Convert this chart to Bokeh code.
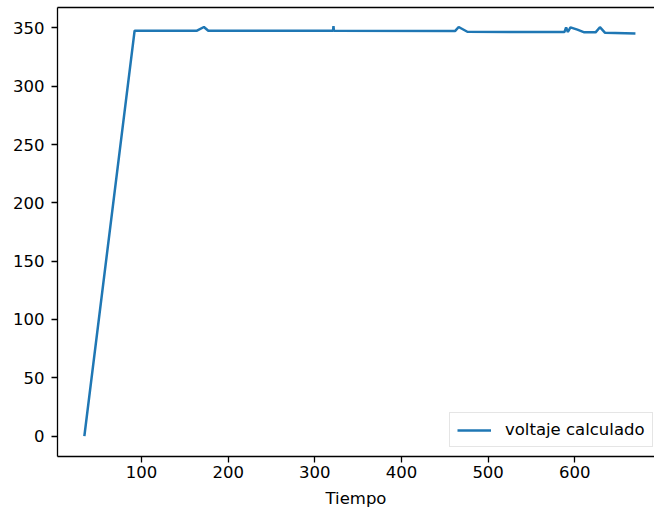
from bokeh.plotting import figure
from bokeh.models import LinearAxis, FixedTicker, Range1d, Legend, LegendItem
from bokeh.embed import file_html
from bokeh.resources import INLINE

# Data
tiempo = [34, 92, 164, 172, 177, 321, 321.5, 322, 462, 466, 476, 588, 590, 592,
          595, 603, 611, 624, 629, 635, 670]
voltaje = [0, 347.6, 347.6, 350.8, 347.6, 347.6, 351.5, 347.6, 347.4, 350.8, 346.7,
           346.4, 350.5, 346.5, 350.5, 348.5, 346.2, 346.2, 350.6, 345.8, 345.3]
x_ticks = [100, 200, 300, 400, 500, 600]
y_ticks = [0, 50, 100, 150, 200, 250, 300, 350]
serie_label = "voltaje calculado"
x_label = "Tiempo"

FONT = "DejaVu Sans"
FS = "16.5px"

p = figure(frame_width=597, frame_height=449,
           min_border_left=57, min_border_right=0, min_border_top=7, min_border_bottom=50,
           x_range=Range1d(3, 692), y_range=Range1d(-17.5, 367.5),
           output_backend="svg", toolbar_location=None, x_axis_location=None,
           y_axis_location=None)
p.outline_line_color = None
p.xgrid.visible = False
p.ygrid.visible = False
p.background_fill_color = "white"
p.border_fill_color = "white"

def style_axis(ax):
    ax.axis_line_color = "black"
    ax.axis_line_width = 1.3
    ax.major_tick_line_color = "black"
    ax.major_tick_line_width = 1.3
    ax.major_tick_out = 6
    ax.major_tick_in = 0
    ax.minor_tick_out = 0
    ax.minor_tick_in = 0
    ax.major_label_text_font = FONT
    ax.major_label_text_font_size = FS
    ax.major_label_text_color = "black"
    ax.axis_label_text_font = FONT
    ax.axis_label_text_font_size = FS
    ax.axis_label_text_font_style = "normal"
    ax.axis_label_text_color = "black"

xaxis = LinearAxis(ticker=FixedTicker(ticks=x_ticks), axis_label=x_label)
style_axis(xaxis)
xaxis.major_label_standoff = 3
xaxis.axis_label_standoff = 8
p.add_layout(xaxis, "below")

yaxis = LinearAxis(ticker=FixedTicker(ticks=y_ticks))
style_axis(yaxis)
yaxis.major_label_standoff = 7
p.add_layout(yaxis, "left")

top = LinearAxis(ticker=FixedTicker(ticks=[]))
style_axis(top)
top.major_tick_out = 0
top.major_label_standoff = 0
top.major_label_text_font_size = "0px"
p.add_layout(top, "above")

r = p.line(tiempo, voltaje, line_color="#1f77b4", line_width=2.5)

legend = Legend(items=[LegendItem(label=serie_label, renderers=[r])],
                location=(392, 9), margin=0, padding=7, spacing=0,
                glyph_width=34, glyph_height=16, label_height=16,
                label_standoff=14, label_text_font=FONT, label_text_font_size=FS,
                label_text_color="black", border_line_color="#cccccc",
                border_line_width=1, background_fill_alpha=0.8)
p.add_layout(legend, "center")

open("out.html", "w").write(file_html(p, INLINE))
